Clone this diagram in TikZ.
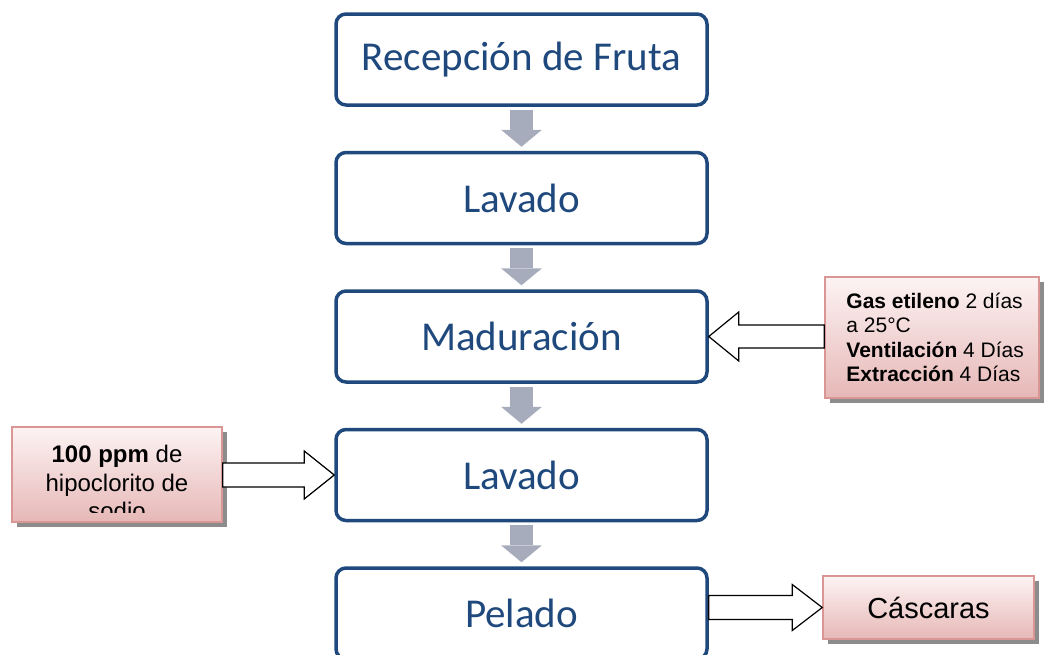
\documentclass[tikz,border=0pt]{standalone}
\usepackage{fontspec}
\setmainfont{Liberation Sans}
\newfontfamily\stagefont{Carlito}
\usetikzlibrary{positioning,calc,arrows.meta,shadows}

\definecolor{stageblue}{RGB}{31,73,125}
\definecolor{flowgray}{RGB}{166,172,188}
\definecolor{pinkline}{RGB}{217,150,148}
\definecolor{pinktop}{RGB}{253,243,243}
\definecolor{pinkbottom}{RGB}{230,184,183}

\tikzset{
  stage/.style={draw=stageblue, line width=3.5pt, rounded corners=10pt, fill=white,
    minimum width=371pt, minimum height=91pt, inner sep=0pt, text=stageblue,
    font=\stagefont\fontsize{41}{49}\selectfont},
  flow/.style={draw=flowgray, line width=23pt,
    -{Triangle[width=41pt,length=17pt,line width=0pt]},
    shorten <=3pt, shorten >=4pt},
  note/.style={draw=pinkline, line width=1.5pt, top color=pinktop, bottom color=pinkbottom,
    drop shadow={shadow xshift=5pt, shadow yshift=-5pt, fill=black!45, opacity=1}},
  hollow/.style={draw=black, line width=1.2pt, fill=white}
}

\begin{document}
\begin{tikzpicture}[x=1pt, y=-1pt, node distance=44pt]
\useasboundingbox (0,0) rectangle (1054,654);

% etapas del proceso
\node[stage] (recep) at (521.5,59.5) {Recepción de Fruta};
\node[stage, below=of recep] (lav1) {Lavado};
\node[stage, below=of lav1] (madur) {Maduración};
\node[stage, below=of madur] (lav2) {Lavado};
\node[stage, below=of lav2] (pelado) {Pelado};

\foreach \a/\b in {recep/lav1, lav1/madur, madur/lav2, lav2/pelado}
  \draw[flow] (\a.south) -- (\b.north);

% entradas y salidas
\node[note, minimum width=214pt, minimum height=121pt] (gas) at (932,337.5) {};
\node[align=left, anchor=west, inner sep=0pt, font=\fontsize{21}{24.5}\selectfont]
  (gastxt) at ([xshift=22pt]gas.west)
  {\textbf{Gas etileno} 2 días\\a 25°C\\\textbf{Ventilación} 4 Días\\\textbf{Extracción} 4 Días};

\node[note, minimum width=210pt, minimum height=95pt] (cloro) at (117,474.5) {};
\begin{scope}
  \clip (cloro.north west) rectangle ([yshift=10pt]cloro.south east);
  \node[align=center, anchor=north, font=\fontsize{24}{28.5}\selectfont] (clorotxt)
    at ([yshift=-15.5pt]cloro.north) {\textbf{100 ppm} de\\hipoclorito de\\sodio};
\end{scope}

\node[note, minimum width=211pt, minimum height=63pt,
  font=\fontsize{29}{34}\selectfont] (casc) at (928.5,607.5) {Cáscaras};

% flechas huecas
\draw[hollow] let \p1=(gas.west), \p2=(madur.east) in
  (\x1,\y2+11.5pt) -- (\x2+30pt,\y2+11.5pt) -- (\x2+30pt,\y2+24.5pt) -- (\x2,\y2)
  -- (\x2+30pt,\y2-24.5pt) -- (\x2+30pt,\y2-11.5pt) -- (\x1,\y2-11.5pt) -- cycle;
\draw[hollow] let \p1=(cloro.east), \p2=(lav2.west) in
  (\x1,\y2+12pt) -- (\x2-30pt,\y2+12pt) -- (\x2-30pt,\y2+24pt) -- (\x2,\y2)
  -- (\x2-30pt,\y2-24pt) -- (\x2-30pt,\y2-12pt) -- (\x1,\y2-12pt) -- cycle;
\draw[hollow] let \p1=(pelado.east), \p2=(casc.west) in
  (\x1,\y2+12pt) -- (\x2-30pt,\y2+12pt) -- (\x2-30pt,\y2+23pt) -- (\x2,\y2)
  -- (\x2-30pt,\y2-23pt) -- (\x2-30pt,\y2-12pt) -- (\x1,\y2-12pt) -- cycle;
\end{tikzpicture}
\end{document}
